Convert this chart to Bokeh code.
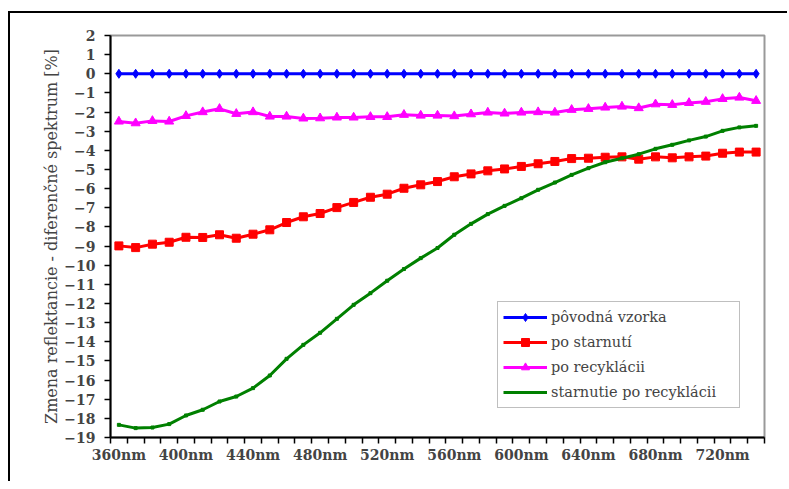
from bokeh.plotting import figure
from bokeh.models import FixedTicker, Range1d, Legend
from bokeh.embed import file_html
from bokeh.resources import INLINE

wavelengths = [360, 370, 380, 390, 400, 410, 420, 430, 440, 450,
               460, 470, 480, 490, 500, 510, 520, 530, 540, 550,
               560, 570, 580, 590, 600, 610, 620, 630, 640, 650,
               660, 670, 680, 690, 700, 710, 720, 730, 740]
label_positions = [360, 400, 440, 480, 520, 560, 600, 640, 680, 720]
tick_labels = ["360nm", "400nm", "440nm", "480nm", "520nm", "560nm",
               "600nm", "640nm", "680nm", "720nm"]
y_ticks = [2, 1, 0, -1, -2, -3, -4, -5, -6, -7, -8, -9, -10, -11, -12,
           -13, -14, -15, -16, -17, -18, -19]

povodna = [0.0, 0.0, 0.0, 0.0, 0.0, 0.0, 0.0, 0.0, 0.0, 0.0,
           0.0, 0.0, 0.0, 0.0, 0.0, 0.0, 0.0, 0.0, 0.0, 0.0,
           0.0, 0.0, 0.0, 0.0, 0.0, 0.0, 0.0, 0.0, 0.0, 0.0,
           0.0, 0.0, 0.0, 0.0, 0.0, 0.0, 0.0, 0.0, 0.0]
po_starnuti = [-8.99, -9.08, -8.90, -8.80, -8.54, -8.55, -8.41, -8.59, -8.38, -8.15,
               -7.77, -7.47, -7.30, -6.99, -6.72, -6.45, -6.29, -5.98, -5.80, -5.63,
               -5.38, -5.23, -5.07, -4.97, -4.84, -4.70, -4.58, -4.43, -4.41, -4.36,
               -4.34, -4.46, -4.34, -4.39, -4.34, -4.30, -4.15, -4.09, -4.09]
po_recyklacii = [-2.49, -2.58, -2.46, -2.49, -2.20, -2.00, -1.83, -2.09, -2.00, -2.23,
                 -2.23, -2.33, -2.32, -2.28, -2.28, -2.25, -2.25, -2.14, -2.18, -2.18,
                 -2.21, -2.11, -2.02, -2.07, -2.02, -2.00, -2.02, -1.88, -1.83, -1.76,
                 -1.71, -1.79, -1.59, -1.62, -1.52, -1.46, -1.31, -1.24, -1.41]
starnutie_po_rec = [-18.34, -18.51, -18.48, -18.30, -17.85, -17.55, -17.12, -16.86, -16.42, -15.76,
                    -14.89, -14.16, -13.53, -12.80, -12.07, -11.46, -10.81, -10.20, -9.63, -9.10,
                    -8.41, -7.84, -7.33, -6.90, -6.50, -6.06, -5.68, -5.28, -4.93, -4.62,
                    -4.41, -4.20, -3.92, -3.71, -3.48, -3.28, -2.98, -2.80, -2.72]

SERIF = "DejaVu Serif"

p = figure(width=779, height=470, output_backend="svg", toolbar_location=None,
           x_range=Range1d(355, 745), y_range=Range1d(-19, 2),
           min_border_left=100, min_border_top=22, min_border_right=25,
           min_border_bottom=46)
# outer chart-area frame: only its top and left edges are visible
p.styles = {"border-top": "2px solid black", "border-left": "2px solid black"}
p.margin = (11, 0, 0, 8)

p.xgrid.visible = False
p.ygrid.visible = False
p.outline_line_color = "#999999"
p.outline_line_width = 2

boundaries = [w - 5 for w in wavelengths] + [wavelengths[-1] + 5]
xax = p.xaxis[0]
xax.ticker = FixedTicker(ticks=label_positions, minor_ticks=boundaries)
xax.major_label_overrides = {pos: lab for pos, lab in zip(label_positions, tick_labels)}
xax.major_tick_out = 0
xax.major_tick_in = 0
xax.minor_tick_out = 6
xax.minor_tick_in = 0
xax.minor_tick_line_color = "black"
xax.minor_tick_line_width = 1.5
xax.axis_line_color = "black"
xax.axis_line_width = 2
xax.major_label_text_font = SERIF
xax.major_label_text_font_style = "bold"
xax.major_label_text_font_size = "14px"
xax.major_label_standoff = 3

yax = p.yaxis[0]
yax.ticker = FixedTicker(ticks=y_ticks, minor_ticks=[])
yax.major_tick_out = 6
yax.major_tick_in = 0
yax.minor_tick_out = 0
yax.minor_tick_in = 0
yax.major_tick_line_width = 1.5
yax.axis_line_width = 2
yax.major_label_text_font = SERIF
yax.major_label_text_font_style = "bold"
yax.major_label_text_font_size = "14px"
yax.major_label_standoff = 9
yax.axis_label = "Zmena reflektancie - diferenčné spektrum [%]"
yax.axis_label_text_font = SERIF
yax.axis_label_text_font_style = "normal"
yax.axis_label_text_font_size = "16px"
yax.axis_label_standoff = 0

r_b_l = p.line(wavelengths, povodna, line_color="#0000FF", line_width=3)
r_b_m = p.scatter(wavelengths, povodna, marker="diamond", size=9,
                  fill_color="#0000FF", line_color="#0000FF")
r_r_l = p.line(wavelengths, po_starnuti, line_color="#FF0000", line_width=3)
r_r_m = p.scatter(wavelengths, po_starnuti, marker="square", size=8,
                  fill_color="#FF0000", line_color="#FF0000")
r_m_l = p.line(wavelengths, po_recyklacii, line_color="#FF00FF", line_width=3)
r_m_m = p.scatter(wavelengths, po_recyklacii, marker="triangle", size=9,
                  fill_color="#FF00FF", line_color="#FF00FF")
r_g_l = p.line(wavelengths, starnutie_po_rec, line_color="#008000", line_width=3)
r_g_m = p.scatter(wavelengths, starnutie_po_rec, marker="square", size=3,
                  fill_color="#008000", line_color="#008000")

legend = Legend(items=[("pôvodná vzorka", [r_b_l, r_b_m]),
                       ("po starnutí", [r_r_l, r_r_m]),
                       ("po recyklácii", [r_m_l, r_m_m]),
                       ("starnutie po recyklácii", [r_g_l])],
                location=(387, 29))
legend.label_text_font = SERIF
legend.label_text_font_size = "14.5px"
legend.glyph_width = 44
legend.glyph_height = 20
legend.label_height = 20
legend.label_width = 183
legend.spacing = 5
legend.padding = 5
legend.margin = 0
legend.label_standoff = 4
legend.border_line_color = "#808080"
legend.border_line_width = 1.5
legend.background_fill_alpha = 1
p.add_layout(legend, "center")

open("out.html", "w").write(file_html(p, INLINE))
